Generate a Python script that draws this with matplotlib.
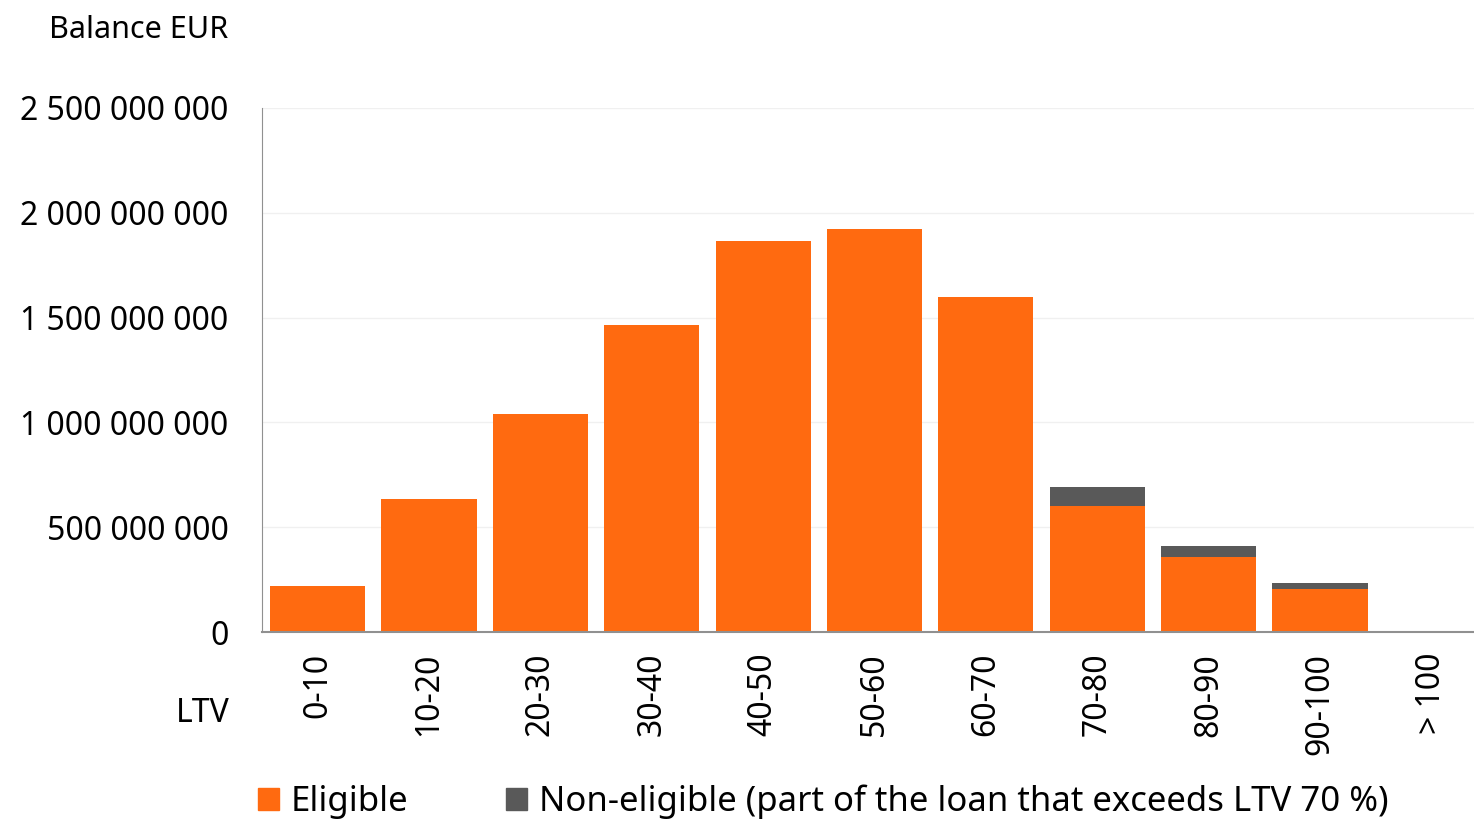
import numpy as np
import matplotlib
matplotlib.use("Agg")
import matplotlib.pyplot as plt
from matplotlib.patches import Patch

# Данные
categories = ["0-10", "10-20", "20-30", "30-40", "40-50", "50-60",
              "60-70", "70-80", "80-90", "90-100", "> 100"]
eligible = [219e6, 634e6, 1040e6, 1465e6, 1865e6, 1923e6,
            1598e6, 601e6, 358e6, 207e6, 0]
non_eligible = [0, 0, 0, 0, 0, 0, 0, 91e6, 51e6, 27e6, 0]
y_ticks = [0, 500e6, 1000e6, 1500e6, 2000e6, 2500e6]

ORANGE = "#FF6A10"
GREY = "#595959"

plt.rcParams['font.family'] = ['Noto Sans', 'DejaVu Sans']

W, H = 1474, 821
fig = plt.figure(figsize=(W / 100, H / 100), dpi=100)
# область графика немного выходит за правый край картинки, как в оригинале
ax = fig.add_axes([262 / W, (H - 632) / H, 1225 / W, 524 / H])

x = np.arange(len(categories))
ax.bar(x, eligible, width=0.855, color=ORANGE, zorder=2)
ax.bar(x, non_eligible, width=0.855, bottom=eligible, color=GREY, zorder=2)

ax.set_xlim(-0.5, len(categories) - 0.5)
ax.set_ylim(0, 2500e6)
ax.set_yticks(y_ticks)
ax.set_yticklabels([f"{int(v):,}".replace(",", " ") for v in y_ticks])
ax.set_xticks(x)
ax.set_xticklabels(categories, rotation=90, va="top")
ax.tick_params(axis="y", length=0, pad=24, labelsize=23)
ax.tick_params(axis="x", length=0, pad=15, labelsize=23)

ax.grid(axis="y", color="#f0f0f0", linewidth=1, zorder=0)
for s in ["top", "right"]:
    ax.spines[s].set_visible(False)
ax.spines["left"].set_color("#909090")
ax.spines["bottom"].set_color("#909090")
ax.spines["bottom"].set_linewidth(1.5)

fig.text(228 / W, 1 - 30 / H, "Balance EUR", ha="right", va="center", fontsize=22)
fig.text(230 / W, 1 - 713 / H, "LTV", ha="right", va="center", fontsize=23)

handles = [Patch(color=ORANGE, label="Eligible"),
           Patch(color=GREY, label="Non-eligible (part of the loan that exceeds LTV 70 %)")]
fig.legend(handles=handles, loc="center left", bbox_to_anchor=(244 / W, 1 - 802 / H),
           ncol=2, frameon=False, fontsize=25, handlelength=0.6, handleheight=0.6,
           handletextpad=0.35, columnspacing=2.8, borderaxespad=0)

fig.savefig("out.png", dpi=100)
